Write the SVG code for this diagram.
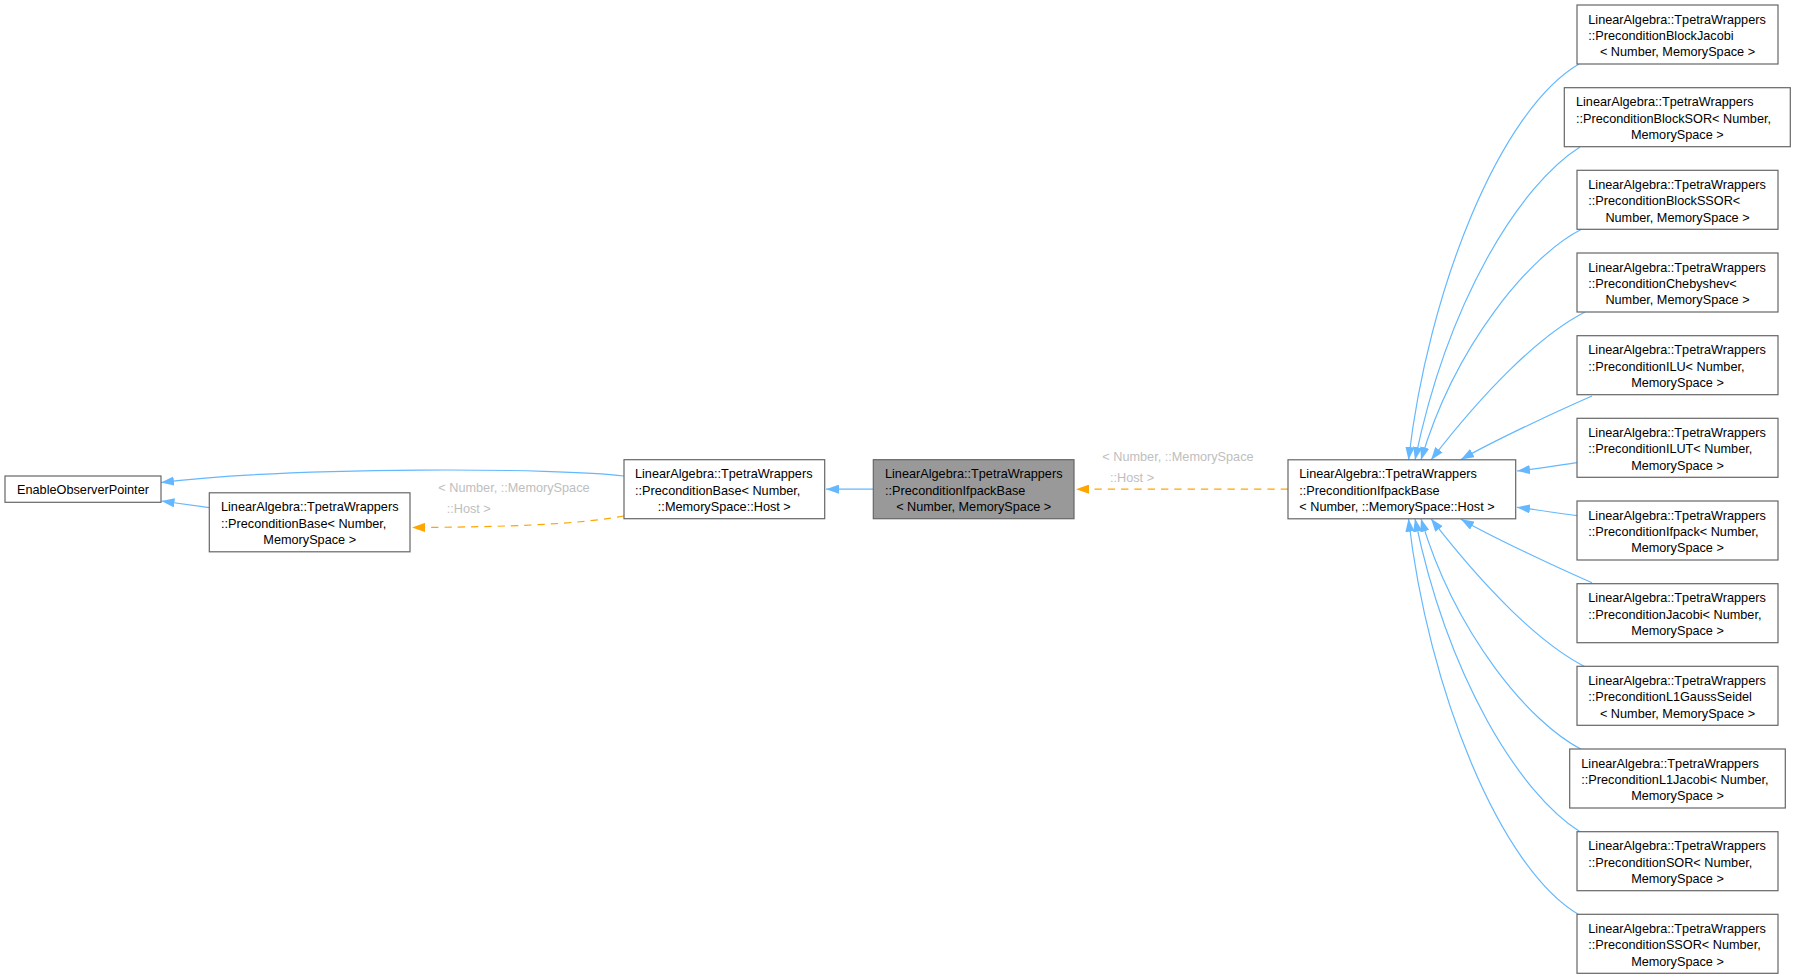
<svg xmlns="http://www.w3.org/2000/svg" width="1796" height="979" viewBox="0 0 1796 979">
<style>
.n rect{fill:#ffffff;stroke:#666666;stroke-width:1.2}
.n.root rect{fill:#999999}
text{font-family:"Liberation Sans",Arial,Helvetica,sans-serif;font-size:12.7px;fill:#000000}
.m{text-anchor:middle}
.lbl{fill:#bebebe}
.e{fill:none;stroke:#63b8ff;stroke-width:1.2;marker-end:url(#ab)}
.o{fill:none;stroke:#ffa500;stroke-width:1.2;stroke-dasharray:7.3,6;marker-end:url(#ao)}
</style>
<defs>
<marker id="ab" markerUnits="userSpaceOnUse" viewBox="0 0 13 9.2" refX="13" refY="4.6" markerWidth="13" markerHeight="9.2" orient="auto">
<path d="M0,0 L13,4.6 L0,9.2 Z" fill="#63b8ff" stroke="none"/>
</marker>
<marker id="ao" markerUnits="userSpaceOnUse" viewBox="0 0 13 9.2" refX="13" refY="4.6" markerWidth="13" markerHeight="9.2" orient="auto">
<path d="M0,0 L13,4.6 L0,9.2 Z" fill="#ffa500" stroke="none"/>
</marker>
</defs>
<rect width="1796" height="979" fill="#ffffff"/>
<g id="edges">
<path class="e" d="M624,476 C560,468 300,466 161,482.5"/>
<path class="e" d="M209.3,507.7 L161.5,501"/>
<path class="o" d="M624,516 C590,522 540,527 412,527.5"/>
<path class="e" d="M873.3,489.2 L826,489.2"/>
<path class="o" d="M1288,489.2 L1076,489.2"/>
<path class="e" d="M1579,64 C1500,110 1428,290 1408.5,460"/>
<path class="e" d="M1580,147 C1520,185 1448,300 1415,460"/>
<path class="e" d="M1582,229 C1530,255 1455,345 1421,460"/>
<path class="e" d="M1585,312 C1540,335 1485,390 1431,460"/>
<path class="e" d="M1592,396 C1560,410 1495,440 1461,459.5"/>
<path class="e" d="M1577,462.7 C1560,465 1535,469 1517,471"/>
<path class="e" d="M1577,515.7 C1560,513.5 1535,509.5 1517,507.3"/>
<path class="e" d="M1592,582.7 C1560,568.7 1495,538.7 1461,519.2"/>
<path class="e" d="M1585,666.7 C1540,643.7 1485,588.7 1431,518.7"/>
<path class="e" d="M1582,749.7 C1530,723.7 1455,633.7 1421,518.7"/>
<path class="e" d="M1580,831.7 C1520,793.7 1448,678.7 1415,518.7"/>
<path class="e" d="M1579,914.7 C1500,868.7 1428,688.7 1408.5,518.7"/>
<text class="lbl" x="438.3" y="491.8">&lt; Number, ::MemorySpace</text>
<text class="lbl" x="446.7" y="512.8">::Host &gt;</text>
<text class="lbl" x="1102.3" y="461.2">&lt; Number, ::MemorySpace</text>
<text class="lbl" x="1110" y="482.2">::Host &gt;</text>
</g>
<g id="node_EnableObserverPointer" class="n">
<rect x="5" y="476" width="156" height="26.3"/>
<text class="m" x="83" y="494">EnableObserverPointer</text>
</g>
<g id="node_PreconditionBase" class="n">
<rect x="209.3" y="492.8" width="200.7" height="59"/>
<text x="221" y="511.4">LinearAlgebra::TpetraWrappers</text>
<text x="221" y="527.7">::PreconditionBase&lt; Number,</text>
<text class="m" x="309.7" y="544">MemorySpace &gt;</text>
</g>
<g id="node_PreconditionBaseHost" class="n">
<rect x="624" y="459.7" width="200.7" height="59"/>
<text x="635" y="478.3">LinearAlgebra::TpetraWrappers</text>
<text x="635" y="494.6">::PreconditionBase&lt; Number,</text>
<text class="m" x="724.3" y="510.9">::MemorySpace::Host &gt;</text>
</g>
<g id="node_PreconditionIfpackBase" class="n root">
<rect x="873.3" y="459.7" width="200.7" height="59"/>
<text x="885" y="478.3">LinearAlgebra::TpetraWrappers</text>
<text x="885" y="494.6">::PreconditionIfpackBase</text>
<text class="m" x="973.7" y="510.9">&lt; Number, MemorySpace &gt;</text>
</g>
<g id="node_PreconditionIfpackBaseHost" class="n">
<rect x="1288" y="459.8" width="227.7" height="59"/>
<text x="1299.3" y="478.4">LinearAlgebra::TpetraWrappers</text>
<text x="1299.3" y="494.7">::PreconditionIfpackBase</text>
<text x="1299.3" y="511">&lt; Number, ::MemorySpace::Host &gt;</text>
</g>
<g id="node_BlockJacobi" class="n">
<rect x="1577" y="5" width="201" height="59"/>
<text x="1588.3" y="23.6">LinearAlgebra::TpetraWrappers</text>
<text x="1588.3" y="39.9">::PreconditionBlockJacobi</text>
<text class="m" x="1677.5" y="56.2">&lt; Number, MemorySpace &gt;</text>
</g>
<g id="node_BlockSOR" class="n">
<rect x="1564.3" y="87.7" width="226" height="59"/>
<text x="1576" y="106.3">LinearAlgebra::TpetraWrappers</text>
<text x="1576" y="122.6">::PreconditionBlockSOR&lt; Number,</text>
<text class="m" x="1677.3" y="138.9">MemorySpace &gt;</text>
</g>
<g id="node_BlockSSOR" class="n">
<rect x="1577" y="170.3" width="201" height="59"/>
<text x="1588.3" y="188.9">LinearAlgebra::TpetraWrappers</text>
<text x="1588.3" y="205.2">::PreconditionBlockSSOR&lt;</text>
<text class="m" x="1677.5" y="221.5">Number, MemorySpace &gt;</text>
</g>
<g id="node_Chebyshev" class="n">
<rect x="1577" y="253" width="201" height="59"/>
<text x="1588.3" y="271.6">LinearAlgebra::TpetraWrappers</text>
<text x="1588.3" y="287.9">::PreconditionChebyshev&lt;</text>
<text class="m" x="1677.5" y="304.2">Number, MemorySpace &gt;</text>
</g>
<g id="node_ILU" class="n">
<rect x="1577" y="335.7" width="201" height="59"/>
<text x="1588.3" y="354.3">LinearAlgebra::TpetraWrappers</text>
<text x="1588.3" y="370.6">::PreconditionILU&lt; Number,</text>
<text class="m" x="1677.5" y="386.9">MemorySpace &gt;</text>
</g>
<g id="node_ILUT" class="n">
<rect x="1577" y="418.3" width="201" height="59"/>
<text x="1588.3" y="436.9">LinearAlgebra::TpetraWrappers</text>
<text x="1588.3" y="453.2">::PreconditionILUT&lt; Number,</text>
<text class="m" x="1677.5" y="469.5">MemorySpace &gt;</text>
</g>
<g id="node_Ifpack" class="n">
<rect x="1577" y="501" width="201" height="59"/>
<text x="1588.3" y="519.6">LinearAlgebra::TpetraWrappers</text>
<text x="1588.3" y="535.9">::PreconditionIfpack&lt; Number,</text>
<text class="m" x="1677.5" y="552.2">MemorySpace &gt;</text>
</g>
<g id="node_Jacobi" class="n">
<rect x="1577" y="583.7" width="201" height="59"/>
<text x="1588.3" y="602.3">LinearAlgebra::TpetraWrappers</text>
<text x="1588.3" y="618.6">::PreconditionJacobi&lt; Number,</text>
<text class="m" x="1677.5" y="634.9">MemorySpace &gt;</text>
</g>
<g id="node_L1GaussSeidel" class="n">
<rect x="1577" y="666.3" width="201" height="59"/>
<text x="1588.3" y="684.9">LinearAlgebra::TpetraWrappers</text>
<text x="1588.3" y="701.2">::PreconditionL1GaussSeidel</text>
<text class="m" x="1677.5" y="717.5">&lt; Number, MemorySpace &gt;</text>
</g>
<g id="node_L1Jacobi" class="n">
<rect x="1569.7" y="749" width="215.6" height="59"/>
<text x="1581.3" y="767.6">LinearAlgebra::TpetraWrappers</text>
<text x="1581.3" y="783.9">::PreconditionL1Jacobi&lt; Number,</text>
<text class="m" x="1677.5" y="800.2">MemorySpace &gt;</text>
</g>
<g id="node_SOR" class="n">
<rect x="1577" y="831.7" width="201" height="59"/>
<text x="1588.3" y="850.3">LinearAlgebra::TpetraWrappers</text>
<text x="1588.3" y="866.6">::PreconditionSOR&lt; Number,</text>
<text class="m" x="1677.5" y="882.9">MemorySpace &gt;</text>
</g>
<g id="node_SSOR" class="n">
<rect x="1577" y="914.3" width="201" height="59"/>
<text x="1588.3" y="932.9">LinearAlgebra::TpetraWrappers</text>
<text x="1588.3" y="949.2">::PreconditionSSOR&lt; Number,</text>
<text class="m" x="1677.5" y="965.5">MemorySpace &gt;</text>
</g>
</svg>
